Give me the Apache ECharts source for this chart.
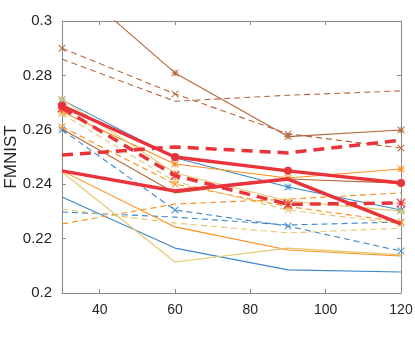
<!DOCTYPE html>
<html><head><meta charset="utf-8">
<script src="https://cdn.jsdelivr.net/npm/echarts@6/dist/echarts.min.js"></script>
<style>html,body{margin:0;padding:0;background:#fff}#c{width:415px;height:340px}</style>
</head><body><div id="c"></div>
<script>
const xs = [30, 60, 90, 120];
const xTicks = [40, 60, 80, 100, 120];
const yTicks = [0.2, 0.22, 0.24, 0.26, 0.28, 0.3];

const brownStar   = [0.3170, 0.2809, 0.2575, 0.2599];
const brownDashX  = [0.2900, 0.2732, 0.2585, 0.2533];
const brownSolid  = [0.2603, 0.2368, 0.2419, 0.2404];
const brownDash   = [0.2860, 0.2705, 0.2727, 0.2743];

const blueStar    = [0.2710, 0.2497, 0.2390, 0.2305];
const blueDashX   = [0.2600, 0.2305, 0.2246, 0.2154];
const blueSolid   = [0.2353, 0.2165, 0.2085, 0.2077];
const blueDash    = [0.2298, 0.2279, 0.2250, 0.2261];

const orangeStar  = [0.2666, 0.2474, 0.2423, 0.2456];
const orangeDashX = [0.2611, 0.2400, 0.2318, 0.2261];
const orangeSolid = [0.2449, 0.2243, 0.2158, 0.2136];
const orangeDash  = [0.2254, 0.2327, 0.2345, 0.2368];

const yellowStar  = [0.2712, 0.2441, 0.2338, 0.2301];
const yellowDashX = [0.2658, 0.2410, 0.2305, 0.2254];
const yellowSolid = [0.2445, 0.2114, 0.2165, 0.2140];
const yellowDash  = [0.2309, 0.2257, 0.2221, 0.2238];

const redCircle   = [0.2688, 0.2500, 0.2449, 0.2404];
const redDashStar = [0.2680, 0.2432, 0.2326, 0.2331];
const redSolid    = [0.2449, 0.2375, 0.2419, 0.2254];
const redDash     = [0.2507, 0.2537, 0.2515, 0.2562];

const C = {brown:'#b5673b', blue:'#3f88c8', orange:'#ff8c1a', yellow:'#e3c86c', red:'#e8333b'};
const XSYM = 'path://M0,0 L1,0 L5,4 L9,0 L10,0 L10,1 L6,5 L10,9 L10,10 L9,10 L5,6 L1,10 L0,10 L0,9 L4,5 L0,1 Z';
const STAR = 'path://M0,0 L1,0 L5,4 L9,0 L10,0 L10,1 L6,5 L10,9 L10,10 L9,10 L5,6 L1,10 L0,10 L0,9 L4,5 L0,1 Z M4.5,0 L5.5,0 L5.5,10 L4.5,10 Z M0,4.5 L10,4.5 L10,5.5 L0,5.5 Z';

function mk(name, vals, color, opt) {
  const thick = opt.thick;
  return {
    name, type: 'line', data: xs.map((x, i) => [x, vals[i]]),
    clip: true, silent: true, animation: false,
    symbol: opt.sym || 'none', symbolSize: opt.size || 7, showSymbol: !!opt.sym,
    itemStyle: {color: color, borderWidth: 0},
    lineStyle: {color: color, width: thick ? 3.5 : 1.1,
      type: opt.dash ? (thick ? [11, 7] : [6, 4]) : 'solid'},
    z: thick ? 5 : 2
  };
}

const series = [
  mk('brownStar', brownStar, C.brown, {sym: STAR}),
  mk('brownDashX', brownDashX, C.brown, {sym: XSYM, dash: true}),
  mk('brownSolid', brownSolid, C.brown, {}),
  mk('brownDash', brownDash, C.brown, {dash: true}),
  mk('blueStar', blueStar, C.blue, {sym: STAR}),
  mk('blueDashX', blueDashX, C.blue, {sym: XSYM, dash: true}),
  mk('blueSolid', blueSolid, C.blue, {}),
  mk('blueDash', blueDash, C.blue, {dash: true}),
  mk('orangeStar', orangeStar, C.orange, {sym: STAR}),
  mk('orangeDashX', orangeDashX, C.orange, {sym: XSYM, dash: true}),
  mk('orangeSolid', orangeSolid, C.orange, {}),
  mk('orangeDash', orangeDash, C.orange, {dash: true}),
  mk('yellowStar', yellowStar, C.yellow, {sym: STAR}),
  mk('yellowDashX', yellowDashX, C.yellow, {sym: XSYM, dash: true}),
  mk('yellowSolid', yellowSolid, C.yellow, {}),
  mk('yellowDash', yellowDash, C.yellow, {dash: true}),
  mk('redCircle', redCircle, C.red, {sym: 'circle', size: 8, thick: true}),
  mk('redDashStar', redDashStar, C.red, {sym: STAR, size: 9, thick: true, dash: true}),
  mk('redSolid', redSolid, C.red, {thick: true}),
  mk('redDash', redDash, C.red, {thick: true, dash: true})
];

const axisLine = {show: true, lineStyle: {color: '#8a8a8a', width: 1}};
const font = {fontFamily: 'Liberation Sans, Arial, sans-serif', color: '#262626'};

const chart = echarts.init(document.getElementById('c'), null, {renderer: 'canvas'});
chart.setOption({
  backgroundColor: '#fff',
  animation: false,
  grid: {left: 62, right: 14, top: 21, bottom: 47, containLabel: false, outerBoundsMode: 'none'},
  xAxis: [
    {type: 'value', min: 30, max: 120, position: 'bottom', axisLine,
     axisTick: {show: true, inside: true, length: 4, customValues: xTicks, lineStyle: {color: '#8a8a8a'}},
     axisLabel: {customValues: xTicks, fontSize: 14, margin: 10, ...font},
     splitLine: {show: false}},
    {type: 'value', min: 30, max: 120, position: 'top', axisLine,
     axisTick: {show: true, inside: true, length: 4, customValues: xTicks, lineStyle: {color: '#8a8a8a'}},
     axisLabel: {show: false}, splitLine: {show: false}}
  ],
  yAxis: [
    {type: 'value', min: 0.2, max: 0.3, interval: 0.02, position: 'left', axisLine,
     axisTick: {show: true, inside: true, length: 4, lineStyle: {color: '#8a8a8a'}},
     axisLabel: {fontSize: 15, margin: 10, formatter: v => String(+v.toFixed(2)), ...font},
     splitLine: {show: false},
     name: 'FMNIST', nameLocation: 'middle', nameGap: 42, nameMoveOverlap: false,
     nameTextStyle: {fontSize: 17, ...font}},
    {type: 'value', min: 0.2, max: 0.3, interval: 0.02, position: 'right', axisLine,
     axisTick: {show: true, inside: true, length: 4, lineStyle: {color: '#8a8a8a'}},
     axisLabel: {show: false}, splitLine: {show: false}}
  ],
  series
});
</script>
</body></html>
